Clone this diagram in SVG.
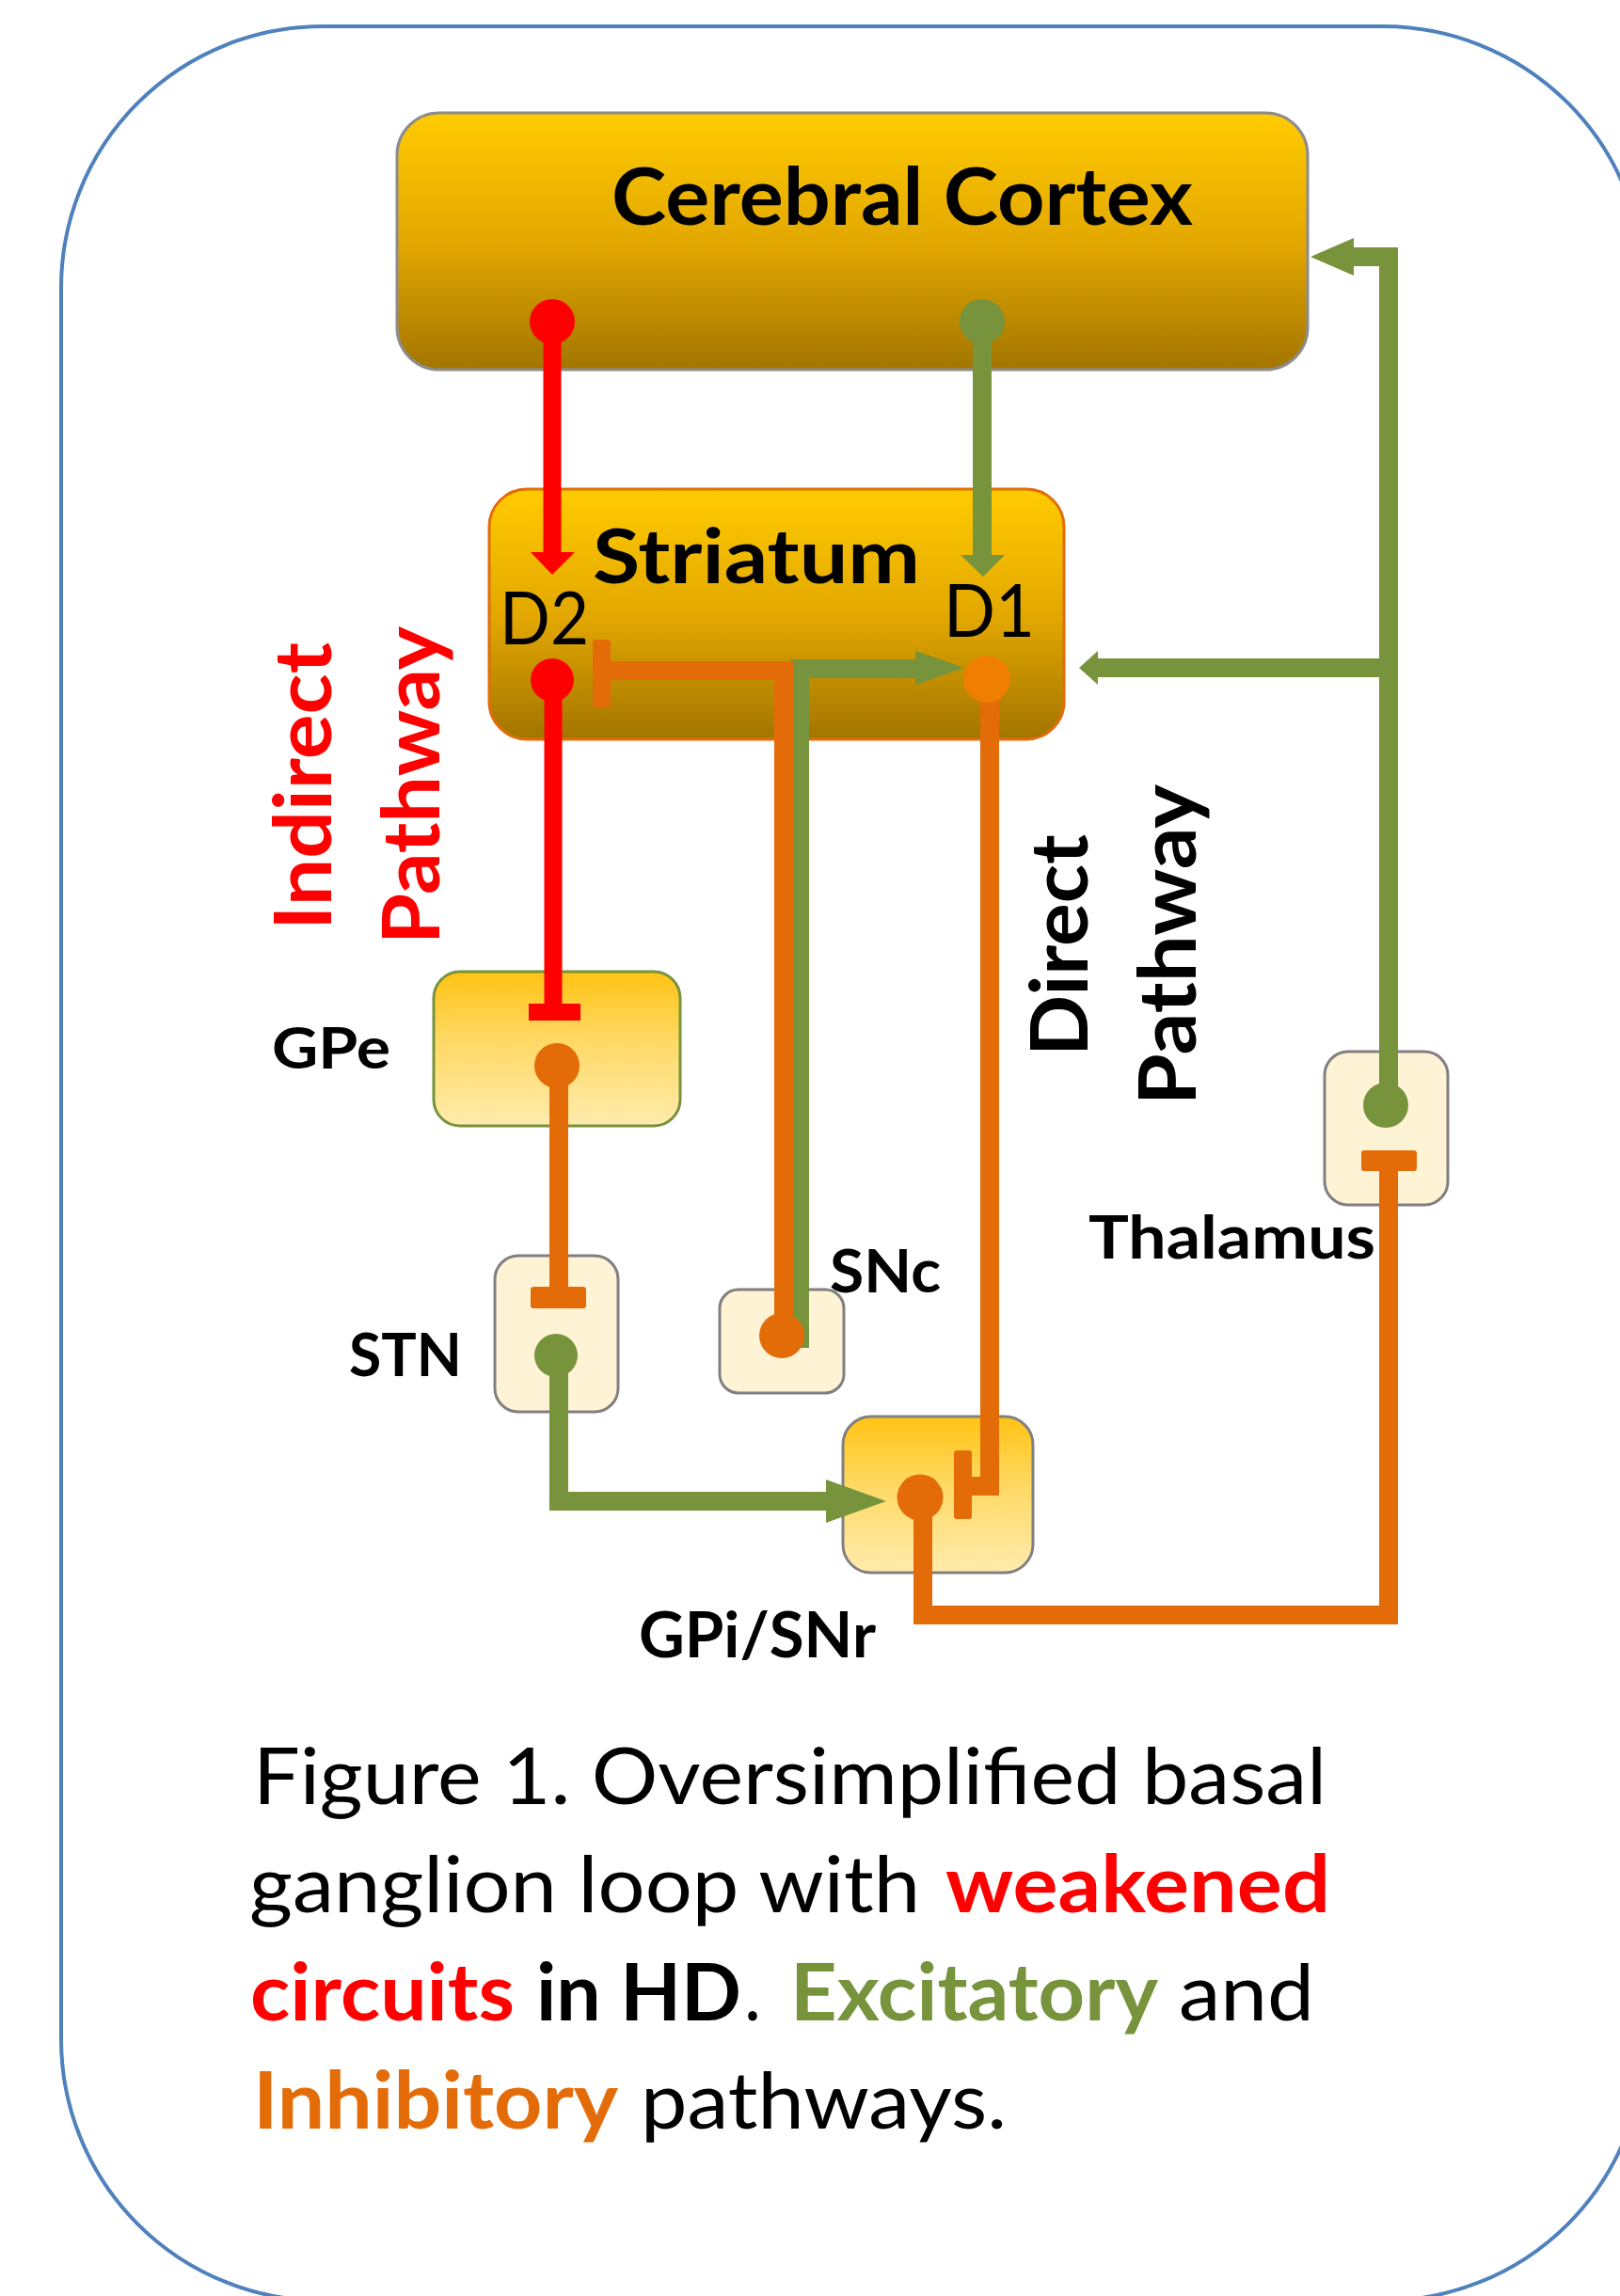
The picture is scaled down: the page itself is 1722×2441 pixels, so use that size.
<svg xmlns="http://www.w3.org/2000/svg" width="1722" height="2441" viewBox="0 0 1722 2441">
<style>
.t{font-family:Lato,"Open Sans","Liberation Sans",sans-serif}
.b{font-weight:bold}
.r{font-weight:normal}
.blk{fill:#000}
.red{fill:#FF0000}
.grn{fill:#77933C}
.org{fill:#E36C09}
.exc{fill:none;stroke:#77933C;stroke-width:20;stroke-linejoin:miter;stroke-linecap:butt}
.inh{fill:none;stroke:#E36C09;stroke-width:20;stroke-linejoin:miter;stroke-linecap:butt}
.ired{fill:none;stroke:#FF0000;stroke-width:19;stroke-linecap:butt}
.cream{fill:#FFF3D6;stroke:#808080;stroke-width:3}
</style>
<defs>
<linearGradient id="gDark" x1="0" y1="0" x2="0" y2="1">
<stop offset="0" stop-color="#FFCB00"/>
<stop offset="0.5" stop-color="#E3A800"/>
<stop offset="1" stop-color="#A37500"/>
</linearGradient>
<linearGradient id="gLight" x1="0" y1="0" x2="0" y2="1">
<stop offset="0" stop-color="#FFC313"/>
<stop offset="0.45" stop-color="#FFD965"/>
<stop offset="1" stop-color="#FFEBAD"/>
</linearGradient>
</defs>
<rect width="1722" height="2441" fill="#FFFFFF"/>
<rect id="frame" x="65" y="28" width="1683" height="2418" rx="278" ry="278" fill="none" stroke="#4F81BD" stroke-width="4"/>

<g id="cortex">
<rect x="422" y="120" width="968" height="273" rx="45" ry="45" fill="url(#gDark)" stroke="#8C8C8C" stroke-width="3"/>
<text class="t b blk" x="650" y="239" font-size="85" textLength="618" lengthAdjust="spacingAndGlyphs">Cerebral Cortex</text>
</g>

<g id="striatum">
<rect x="520" y="520" width="611" height="266" rx="40" ry="40" fill="url(#gDark)" stroke="#E36C09" stroke-width="3"/>
<text class="t b blk" x="630" y="620" font-size="81" textLength="348" lengthAdjust="spacingAndGlyphs">Striatum</text>
<text class="t r blk" x="531" y="685" font-size="77" textLength="95" lengthAdjust="spacingAndGlyphs">D2</text>
<text class="t r blk" x="1003" y="677" font-size="77" textLength="97" lengthAdjust="spacingAndGlyphs">D1</text>
</g>

<g id="gpe">
<rect x="461" y="1033" width="262" height="164" rx="28" ry="28" fill="url(#gLight)" stroke="#77933C" stroke-width="3"/>
<text class="t b blk" x="289" y="1136" font-size="61" textLength="126" lengthAdjust="spacingAndGlyphs">GPe</text>
</g>

<g id="stn">
<rect class="cream" x="526" y="1335" width="131" height="166" rx="25" ry="25"/>
<text class="t b blk" x="371" y="1463" font-size="64" textLength="120" lengthAdjust="spacingAndGlyphs">STN</text>
</g>

<g id="snc">
<rect class="cream" x="765" y="1371" width="132" height="110" rx="20" ry="20"/>
<text class="t b blk" x="882" y="1374" font-size="64" textLength="118" lengthAdjust="spacingAndGlyphs">SNc</text>
</g>

<g id="gpi">
<rect x="896" y="1506" width="202" height="166" rx="30" ry="30" fill="url(#gLight)" stroke="#808080" stroke-width="3"/>
<text class="t b blk" x="679" y="1762" font-size="66" textLength="252" lengthAdjust="spacingAndGlyphs">GPi/SNr</text>
</g>

<g id="thalamus">
<rect class="cream" x="1408" y="1118" width="131" height="163" rx="25" ry="25"/>
<text class="t b blk" x="1157" y="1338" font-size="64" textLength="305" lengthAdjust="spacingAndGlyphs">Thalamus</text>
</g>

<g id="pathway-labels">
<text class="t b red" transform="translate(352,989) rotate(-90)" font-size="85" textLength="306" lengthAdjust="spacingAndGlyphs">Indirect</text>
<text class="t b red" transform="translate(467,1004) rotate(-90)" font-size="85" textLength="338" lengthAdjust="spacingAndGlyphs">Pathway</text>
<text class="t b blk" transform="translate(1156,1123) rotate(-90)" font-size="85" textLength="236" lengthAdjust="spacingAndGlyphs">Direct</text>
<text class="t b blk" transform="translate(1271,1175) rotate(-90)" font-size="85" textLength="341" lengthAdjust="spacingAndGlyphs">Pathway</text>
</g>

<g id="connectors">
<!-- Cortex -> D2 (red, excitatory) -->
<path class="ired" d="M587,342 V588"/>
<polygon points="564,587 611,587 587,611" fill="#FF0000"/>
<circle cx="587" cy="342" r="24" fill="#FF0000"/>
<!-- Cortex -> D1 (green) -->
<path class="exc" d="M1044,342 V591" stroke-width="19"/>
<polygon points="1021,590 1068,590 1045,613" fill="#77933C"/>
<circle cx="1044" cy="342" r="24" fill="#77933C"/>
<!-- D2 -> GPe (red, inhibitory) -->
<path class="ired" d="M588,723 V1068"/>
<rect x="562" y="1067" width="55" height="18" fill="#FF0000"/>
<circle cx="587" cy="723" r="23" fill="#FF0000"/>
<!-- GPe -> STN (orange) -->
<path class="inh" d="M594,1133 V1369" stroke-width="19"/>
<rect x="564" y="1368" width="59" height="23" rx="3" fill="#E36C09"/>
<circle cx="592" cy="1133" r="24" fill="#E36C09"/>
<!-- STN -> GPi (green) -->
<path class="exc" d="M594,1441 V1596 H880"/>
<polygon points="878,1573 878,1619 942,1596" fill="#77933C"/>
<circle cx="591" cy="1441" r="23" fill="#77933C"/>
<!-- SNc -> D1 (green) -->
<path class="exc" d="M850,1433 V711 H975" stroke-width="18"/>
<polygon points="973,692 973,728 1025,710" fill="#77933C"/>
<!-- SNc -> D2 (orange) -->
<path class="inh" d="M833,1420 V713 H647" stroke-width="17"/>
<path d="M824.5,703 H841.5 V722 H824.5 Z" fill="#E36C09"/>
<rect x="630" y="680" width="19" height="72" rx="3" fill="#E36C09"/>
<circle cx="831" cy="1420" r="24" fill="#E36C09"/>
<!-- D1 -> GPi (orange) -->
<path class="inh" d="M1052,743 V1580 H1031" stroke-width="21"/>
<rect x="1014" y="1542" width="19" height="73" rx="3" fill="#E36C09"/>
<circle cx="1049" cy="722" r="25" fill="#F07E00"/>
<!-- GPi -> Thalamus (orange) -->
<path class="inh" d="M981,1592 V1717 H1476 V1244"/>
<rect x="1447" y="1223" width="59" height="22" rx="3" fill="#E36C09"/>
<circle cx="978" cy="1592" r="24.5" fill="#E36C09"/>
<!-- Thalamus -> Cortex and Striatum (green) -->
<path class="exc" d="M1476,1175 V273 H1437"/>
<polygon points="1439,253 1439,293 1393,273" fill="#77933C"/>
<path class="exc" d="M1476,710 H1165"/>
<polygon points="1167,692 1167,728 1147,710" fill="#77933C"/>
<circle cx="1473" cy="1175" r="24" fill="#77933C"/>
</g>

<g id="caption">
<text class="t r blk" x="269" y="1918" font-size="84" textLength="1141" lengthAdjust="spacingAndGlyphs">Figure 1. Oversimplified basal</text>
<text class="t r blk" x="265" y="2033" font-size="84" textLength="713" lengthAdjust="spacingAndGlyphs">ganglion loop with</text>
<text class="t b red" x="1005" y="2033" font-size="84" textLength="409" lengthAdjust="spacingAndGlyphs">weakened</text>
<text class="t b red" x="266" y="2148" font-size="84" textLength="281" lengthAdjust="spacingAndGlyphs">circuits</text>
<text class="t b blk" x="570" y="2148" font-size="84" textLength="218" lengthAdjust="spacingAndGlyphs">in HD</text>
<text class="t r blk" x="791" y="2148" font-size="84" textLength="18" lengthAdjust="spacingAndGlyphs">.</text>
<text class="t b grn" x="840" y="2148" font-size="84" textLength="391" lengthAdjust="spacingAndGlyphs">Excitatory</text>
<text class="t r blk" x="1253" y="2148" font-size="84" textLength="144" lengthAdjust="spacingAndGlyphs">and</text>
<text class="t b org" x="269" y="2263" font-size="84" textLength="388" lengthAdjust="spacingAndGlyphs">Inhibitory</text>
<text class="t r blk" x="681" y="2263" font-size="84" textLength="389" lengthAdjust="spacingAndGlyphs">pathways.</text>
</g>
</svg>
